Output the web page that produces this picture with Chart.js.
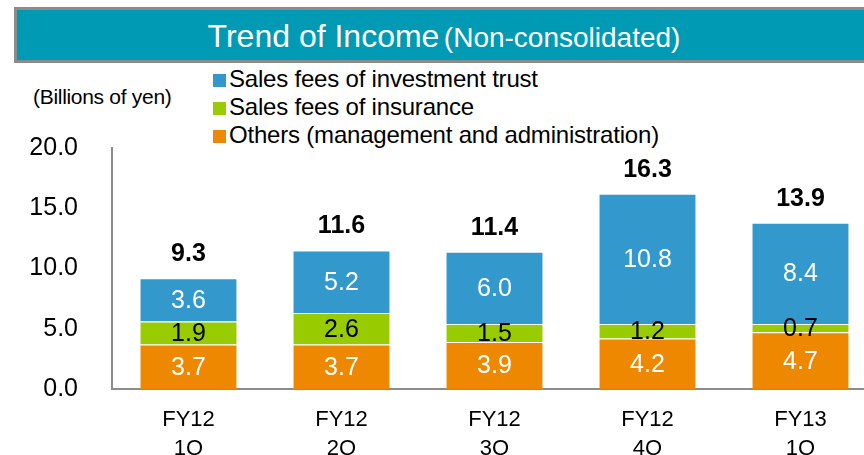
<!DOCTYPE html>
<html lang="en">
<head>
  <meta charset="UTF-8">
  <title>Trend of Income</title>
  <script src="https://cdn.jsdelivr.net/npm/chart.js"></script>
  <style>
    body {
      margin: 0;
      width: 864px;
      height: 455px;
      overflow: hidden;
      background: #fff;
      font-family: 'Liberation Sans', Arial, sans-serif;
      position: relative;
    }
    .banner {
      position: absolute;
      left: 14px;
      top: 7px;
      width: 880px;
      height: 50px;
      background: #009ab4;
      border: 3px solid #8c8c8c;
      color: #fff;
      line-height: 52px;
    }
    .banner .inner {
      position: absolute;
      left: 0;
      width: 854px;
      text-align: center;
      white-space: nowrap;
    }
    .banner .main { font-size: 32px; }
    .banner .sub { font-size: 28px; }
    .unit {
      position: absolute;
      left: 33px;
      top: 85px;
      font-size: 21px;
      letter-spacing: -0.3px;
    }
    .legend {
      position: absolute;
      left: 213px;
      top: 65px;
      font-size: 24px;
      letter-spacing: -0.2px;
    }
    .legend div {
      height: 28px;
      line-height: 28px;
      white-space: nowrap;
    }
    .legend i {
      display: inline-block;
      width: 13px;
      height: 13px;
      margin-right: 3px;
      vertical-align: 0px;
    }
    #wrap {
      position: absolute;
      left: 0;
      top: 0;
    }
  </style>
</head>
<body>
  <div class="banner"><div class="inner"><span class="main">Trend of Income</span> <span class="sub">(Non-consolidated)</span></div></div>
  <div class="unit">(Billions of yen)</div>
  <div class="legend" id="legend"></div>
  <div id="wrap"><canvas id="mainChart" width="880" height="455"></canvas></div>

  <script>
    const categories = [['FY12', '1Q'], ['FY12', '2Q'], ['FY12', '3Q'], ['FY12', '4Q'], ['FY13', '1Q']];
    const investmentTrust = [3.6, 5.2, 6.0, 10.8, 8.4];
    const insurance = [1.9, 2.6, 1.5, 1.2, 0.7];
    const others = [3.7, 3.7, 3.9, 4.2, 4.7];
    const totals = [9.3, 11.6, 11.4, 16.3, 13.9];

    const FONT = "'Liberation Sans', Arial, sans-serif";

    // segment values and bold totals above each bar
    const valueLabels = {
      id: 'valueLabels',
      afterDatasetsDraw(chart) {
        const ctx = chart.ctx;
        ctx.save();
        ctx.textAlign = 'center';
        ctx.textBaseline = 'middle';
        chart.data.datasets.forEach((ds, i) => {
          const meta = chart.getDatasetMeta(i);
          ctx.font = '25px ' + FONT;
          ctx.fillStyle = ds.labelColor;
          meta.data.forEach((bar, j) => {
            const p = bar.getProps(['x', 'y', 'base'], true);
            ctx.fillText(ds.data[j].toFixed(1), p.x, (p.y + p.base) / 2 + 1);
          });
        });
        const top = chart.getDatasetMeta(chart.data.datasets.length - 1);
        ctx.font = 'bold 25px ' + FONT;
        ctx.fillStyle = '#000';
        top.data.forEach((bar, j) => {
          const p = bar.getProps(['x', 'y'], true);
          ctx.fillText(totals[j].toFixed(1), p.x, p.y - 24);
        });
        ctx.restore();
      }
    };

    const datasets = [
      { label: 'Others (management and administration)', data: others, backgroundColor: '#ee8800', labelColor: '#fff' },
      { label: 'Sales fees of insurance', data: insurance, backgroundColor: '#99cc00', labelColor: '#000' },
      { label: 'Sales fees of investment trust', data: investmentTrust, backgroundColor: '#3399cc', labelColor: '#fff' }
    ];

    document.getElementById('legend').innerHTML = datasets.slice().reverse().map(d =>
      `<div><i style="background:${d.backgroundColor}"></i>${d.label}</div>`
    ).join('');

    new Chart(document.getElementById('mainChart'), {
      type: 'bar',
      data: {
        labels: categories,
        datasets: datasets.map(d => Object.assign({
          borderWidth: 1,
          borderColor: 'rgba(255,255,255,0.2)',
          barPercentage: 0.64,
          categoryPercentage: 1
        }, d))
      },
      options: {
        responsive: false,
        animation: false,
        layout: { padding: { top: 148, right: 3, left: 0, bottom: 0 } },
        plugins: {
          legend: { display: false },
          tooltip: { enabled: false }
        },
        scales: {
          x: {
            stacked: true,
            grid: { display: false },
            border: { color: '#8c8c8c', width: 2 },
            ticks: {
              color: '#000',
              padding: 8,
              font: { family: FONT, size: 22, lineHeight: 1.34 }
            },
            afterFit(scale) { scale.height = 66; }
          },
          y: {
            stacked: true,
            min: 0,
            max: 20,
            grid: { display: false },
            border: { color: '#8c8c8c', width: 2 },
            ticks: {
              stepSize: 5,
              color: '#000',
              padding: 26,
              font: { family: FONT, size: 25 },
              callback: v => v.toFixed(1)
            },
            afterFit(scale) { scale.width = 112; }
          }
        }
      },
      plugins: [valueLabels]
    });
  </script>
</body>
</html>
